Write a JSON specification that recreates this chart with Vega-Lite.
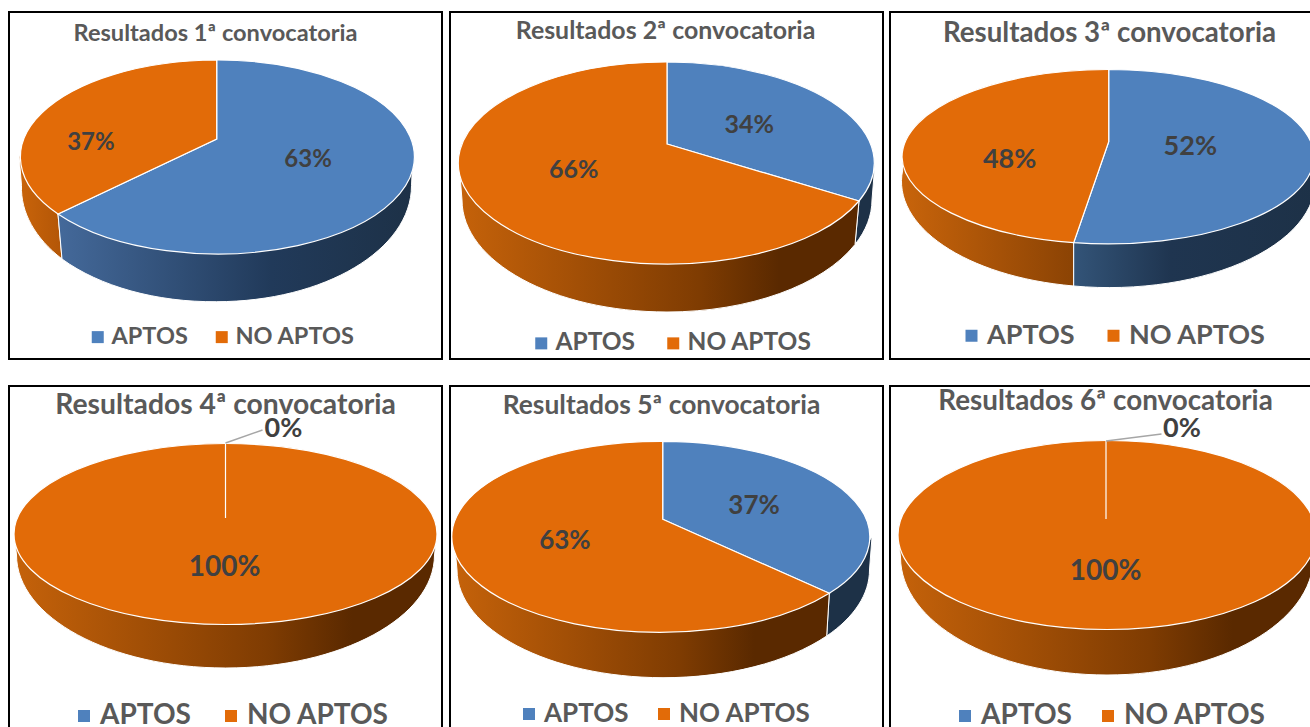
{
"$schema":"https://vega.github.io/schema/vega-lite/v6.json",
"background":"white",
"padding":{"left":8,"top":11,"right":0,"bottom":0},
"config":{"view":{"stroke":"#000000","strokeWidth":2},"legend":{"symbolStrokeWidth":0,"symbolSize":144,"labelFont":"Lato","labelFontWeight":"bold","labelColor":"#595959","labelOffset":2,"title":null,"direction":"horizontal","orient":"none"}},
"spacing":{"row":25,"column":5},
"columns":3,
"resolve":{"scale":{"color":"independent","shape":"independent","theta":"independent"},"legend":{"color":"independent"}},
"concat":[
{"width":433,"height":347,"view":{"stroke":"#000000","strokeWidth":2},
"title":{"text":"Resultados 1ª convocatoria","font":"Lato","fontWeight":"bold","fontSize":23.6,"color":"#595959","anchor":"middle","offset":-34,"dx":-10},
"data":{"values":[{"estado":"APTOS","pct":0.63,"medio":0.315},{"estado":"NO APTOS","pct":0.37,"medio":0.815}]},
"layer":[
{"transform":[{"filter":"datum.estado==='NO APTOS'"}],"mark":{"type":"point","filled":true,"opacity":1,"size":4,"stroke":"#ffffff","strokeWidth":1,"shape":"M-206.5 -30.5L-204 0.2A195 116 0 0 0 -163.5 73.5L-167.5 28.5Z","fill":{"gradient":"linear","stops":[{"offset":0,"color":"#c9640a"},{"offset":1,"color":"#b35607"}]}},"encoding":{}},
{"transform":[{"filter":"datum.estado==='APTOS'"}],"mark":{"type":"point","filled":true,"opacity":1,"size":4,"stroke":"#ffffff","strokeWidth":1,"shape":"M-167.5 28.5L-163.5 73.5A195 116 0 0 0 -9 116.2A195 116 0 0 0 186 0.2L187.5 -30.5Z","fill":{"gradient":"linear","stops":[{"offset":0,"color":"#44699a"},{"offset":0.6,"color":"#213a5a"},{"offset":1,"color":"#1d3147"}]}},"encoding":{}},
{"mark":{"type":"point","filled":true,"opacity":1,"size":4,"stroke":"#ffffff","strokeWidth":1.2},
"encoding":{"shape":{"field":"pct","type":"nominal","legend":null,"scale":{"domain":[0.63,0.37],"range":["M-8.8 -46.5L-8.8 -125.5A197 97 0 1 1 -167.5 28.5Z","M-8.8 -46.5L-167.5 28.5A197 97 0 0 1 -8.8 -125.5Z"]}},
"color":{"field":"estado","type":"nominal","scale":{"domain":["APTOS","NO APTOS"],"range":["#4f81bd","#e26b08"]},"legend":{"symbolType":"square","legendX":77,"legendY":313,"labelFontSize":23.5,"columnPadding":22}}}},
{"transform":[{"filter":"datum.estado==='APTOS'"}],"mark":{"type":"text","font":"Lato","fontWeight":"bold","fontSize":24,"color":"#404040","align":"center","baseline":"middle","dx":0,"dy":-61},"encoding":{"theta":{"field":"medio","type":"quantitative","stack":null,"scale":{"domain":[0,1]}},"radius":{"value":90},"text":{"field":"pct","type":"quantitative","format":".0%"}}},
{"transform":[{"filter":"datum.estado==='NO APTOS'"}],"mark":{"type":"text","font":"Lato","fontWeight":"bold","fontSize":24,"color":"#404040","align":"center","baseline":"middle","dx":-52,"dy":-7},"encoding":{"theta":{"field":"medio","type":"quantitative","stack":null,"scale":{"domain":[0,1]}},"radius":{"value":90},"text":{"field":"pct","type":"quantitative","format":".0%"}}}
]},
{"width":433,"height":347,"view":{"stroke":"#000000","strokeWidth":2},
"title":{"text":"Resultados 2ª convocatoria","font":"Lato","fontWeight":"bold","fontSize":24.9,"color":"#595959","anchor":"middle","offset":-32,"dx":-1},
"data":{"values":[{"estado":"APTOS","pct":0.34,"medio":0.17},{"estado":"NO APTOS","pct":0.66,"medio":0.67}]},
"layer":[
{"transform":[{"filter":"datum.estado==='APTOS'"}],"mark":{"type":"point","filled":true,"opacity":1,"size":4,"stroke":"#ffffff","strokeWidth":1,"shape":"M192.5 15.5L188.5 59A205 112 0 0 0 205.5 14.5L208.5 -22.5Z","fill":"#1d3147"},"encoding":{}},
{"transform":[{"filter":"datum.estado==='NO APTOS'"}],"mark":{"type":"point","filled":true,"opacity":1,"size":4,"stroke":"#ffffff","strokeWidth":1,"shape":"M-207.5 -22.5L-204.5 14.5A205 112 0 0 0 0.5 126.5A205 112 0 0 0 188.5 59L192.5 15.5Z","fill":{"gradient":"linear","stops":[{"offset":0,"color":"#c5620a"},{"offset":0.6,"color":"#7f3c02"},{"offset":0.8,"color":"#5a2900"},{"offset":1,"color":"#5a2900"}]}},"encoding":{}},
{"mark":{"type":"point","filled":true,"opacity":1,"size":4,"stroke":"#ffffff","strokeWidth":1.2},
"encoding":{"shape":{"field":"pct","type":"nominal","legend":null,"scale":{"domain":[0.34,0.66],"range":["M0.5 -41.5L0.5 -123.5A208 101 0 0 1 192.5 15.5Z","M0.5 -41.5L192.5 15.5A208 101 0 1 1 0.5 -123.5Z"]}},
"color":{"field":"estado","type":"nominal","scale":{"domain":["APTOS","NO APTOS"],"range":["#4f81bd","#e26b08"]},"legend":{"symbolType":"square","legendX":79,"legendY":319,"labelFontSize":24.5,"columnPadding":25}}}},
{"transform":[{"filter":"datum.estado==='APTOS'"}],"mark":{"type":"text","font":"Lato","fontWeight":"bold","fontSize":25,"color":"#404040","align":"center","baseline":"middle","dx":4,"dy":-17},"encoding":{"theta":{"field":"medio","type":"quantitative","stack":null,"scale":{"domain":[0,1]}},"radius":{"value":90},"text":{"field":"pct","type":"quantitative","format":".0%"}}},
{"transform":[{"filter":"datum.estado==='NO APTOS'"}],"mark":{"type":"text","font":"Lato","fontWeight":"bold","fontSize":25,"color":"#404040","align":"center","baseline":"middle","dx":-14,"dy":-59},"encoding":{"theta":{"field":"medio","type":"quantitative","stack":null,"scale":{"domain":[0,1]}},"radius":{"value":90},"text":{"field":"pct","type":"quantitative","format":".0%"}}}
]},
{"width":421,"height":347,"view":{"stroke":"#000000","strokeWidth":2},
"title":{"text":"Resultados 3ª convocatoria","font":"Lato","fontWeight":"bold","fontSize":27.7,"color":"#595959","anchor":"middle","offset":-36,"dx":9},
"data":{"values":[{"estado":"APTOS","pct":0.52,"medio":0.26},{"estado":"NO APTOS","pct":0.48,"medio":0.76}]},
"layer":[
{"transform":[{"filter":"datum.estado==='NO APTOS'"}],"mark":{"type":"point","filled":true,"opacity":1,"size":4,"stroke":"#ffffff","strokeWidth":1,"shape":"M-198.5 -28.5L-197.8 -15.5A206 106 0 0 0 -26.8 100.5L-26.8 57.2Z","fill":{"gradient":"linear","stops":[{"offset":0,"color":"#c8640b"},{"offset":1,"color":"#8b4304"}]}},"encoding":{}},
{"transform":[{"filter":"datum.estado==='APTOS'"}],"mark":{"type":"point","filled":true,"opacity":1,"size":4,"stroke":"#ffffff","strokeWidth":1,"shape":"M-26.8 57.2L-26.8 100.5A206 106 0 0 0 213.5 -15.5L213.5 -28.5Z","fill":{"gradient":"linear","stops":[{"offset":0,"color":"#335478"},{"offset":0.4,"color":"#1f3550"},{"offset":1,"color":"#1d3147"}]}},"encoding":{}},
{"mark":{"type":"point","filled":true,"opacity":1,"size":4,"stroke":"#ffffff","strokeWidth":1.2},
"encoding":{"shape":{"field":"pct","type":"nominal","legend":null,"scale":{"domain":[0.52,0.48],"range":["M8.2 -43.8L8.2 -116A206 88 0 0 1 213.5 -28.5A206 88 0 0 1 -26.8 57.2Z","M8.2 -43.8L-26.8 57.2A206 88 0 0 1 -198.5 -28.5A206 88 0 0 1 8.2 -116Z"]}},
"color":{"field":"estado","type":"nominal","scale":{"domain":["APTOS","NO APTOS"],"range":["#4f81bd","#e26b08"]},"legend":{"symbolType":"square","legendX":68,"legendY":310,"labelFontSize":27,"columnPadding":25}}}},
{"transform":[{"filter":"datum.estado==='APTOS'"}],"mark":{"type":"text","font":"Lato","fontWeight":"bold","fontSize":27,"color":"#404040","align":"center","baseline":"middle","dx":0,"dy":-44},"encoding":{"theta":{"field":"medio","type":"quantitative","stack":null,"scale":{"domain":[0,1]}},"radius":{"value":90},"text":{"field":"pct","type":"quantitative","format":".0%"}}},
{"transform":[{"filter":"datum.estado==='NO APTOS'"}],"mark":{"type":"text","font":"Lato","fontWeight":"bold","fontSize":27,"color":"#404040","align":"center","baseline":"middle","dx":-1,"dy":-20},"encoding":{"theta":{"field":"medio","type":"quantitative","stack":null,"scale":{"domain":[0,1]}},"radius":{"value":90},"text":{"field":"pct","type":"quantitative","format":".0%"}}}
]},
{"width":433,"height":342,"view":{"stroke":"#000000","strokeWidth":2},
"title":{"text":"Resultados 4ª convocatoria","font":"Lato","fontWeight":"bold","fontSize":28.3,"color":"#595959","anchor":"middle","offset":-34,"dx":0},
"data":{"values":[{"estado":"NO APTOS","pct":1,"medio":0.5},{"estado":"APTOS","pct":0,"medio":0}]},
"layer":[
{"transform":[{"filter":"datum.estado==='NO APTOS'"}],"mark":{"type":"point","filled":true,"opacity":1,"size":4,"stroke":"#ffffff","strokeWidth":1,"shape":"M-211.5 -23L-209 -2A209 113 0 0 0 0 111A209 113 0 0 0 209 -2L211.5 -23Z","fill":{"gradient":"linear","stops":[{"offset":0,"color":"#c5620a"},{"offset":0.6,"color":"#7f3c02"},{"offset":0.8,"color":"#5a2900"},{"offset":1,"color":"#5a2900"}]}},"encoding":{}},
{"mark":{"type":"point","filled":true,"opacity":1,"size":4,"stroke":"#ffffff","strokeWidth":1.2},
"encoding":{"shape":{"field":"pct","type":"nominal","legend":null,"scale":{"domain":[0,1],"range":["M0 -39L0 -114","M-211.5 -23A211.5 90.5 0 1 1 211.5 -23A211.5 90.5 0 1 1 -211.5 -23Z"]}},
"color":{"field":"estado","type":"nominal","scale":{"domain":["APTOS","NO APTOS"],"range":["#4f81bd","#e26b08"]},"legend":{"symbolType":"square","legendX":61,"legendY":316,"labelFontSize":28,"columnPadding":26}}}},
{"transform":[{"filter":"datum.estado==='APTOS'"}],"mark":{"type":"point","filled":false,"opacity":1,"size":4,"stroke":"#a6a6a6","strokeWidth":1.5,"shape":"M0 -114L37 -127"},"encoding":{}},
{"transform":[{"filter":"datum.estado==='APTOS'"}],"mark":{"type":"text","font":"Lato","fontWeight":"bold","fontSize":27,"color":"#404040","align":"center","baseline":"middle","dx":58,"dy":-38},"encoding":{"theta":{"field":"medio","type":"quantitative","stack":null,"scale":{"domain":[0,1]}},"radius":{"value":90},"text":{"field":"pct","type":"quantitative","format":".0%"}}},
{"transform":[{"filter":"datum.estado==='NO APTOS'"}],"mark":{"type":"text","font":"Lato","fontWeight":"bold","fontSize":28,"color":"#404040","align":"center","baseline":"middle","dx":-1,"dy":-79},"encoding":{"theta":{"field":"medio","type":"quantitative","stack":null,"scale":{"domain":[0,1]}},"radius":{"value":90},"text":{"field":"pct","type":"quantitative","format":".0%"}}}
]},
{"width":433,"height":342,"view":{"stroke":"#000000","strokeWidth":2},
"title":{"text":"Resultados 5ª convocatoria","font":"Lato","fontWeight":"bold","fontSize":26.4,"color":"#595959","anchor":"middle","offset":-33,"dx":-5},
"data":{"values":[{"estado":"APTOS","pct":0.37,"medio":0.185},{"estado":"NO APTOS","pct":0.63,"medio":0.685}]},
"layer":[
{"transform":[{"filter":"datum.estado==='APTOS'"}],"mark":{"type":"point","filled":true,"opacity":1,"size":4,"stroke":"#ffffff","strokeWidth":1,"shape":"M162.8 36.3L160.2 79A206.5 108 0 0 0 203 13L205.5 -20Z","fill":"#1d3147"},"encoding":{}},
{"transform":[{"filter":"datum.estado==='NO APTOS'"}],"mark":{"type":"point","filled":true,"opacity":1,"size":4,"stroke":"#ffffff","strokeWidth":1,"shape":"M-212.5 -20L-209.5 13A206.5 108 0 0 0 -3.5 120.7A206.5 108 0 0 0 160.2 79L162.8 36.3Z","fill":{"gradient":"linear","stops":[{"offset":0,"color":"#c5620a"},{"offset":0.6,"color":"#7f3c02"},{"offset":0.8,"color":"#5a2900"},{"offset":1,"color":"#5a2900"}]}},"encoding":{}},
{"mark":{"type":"point","filled":true,"opacity":1,"size":4,"stroke":"#ffffff","strokeWidth":1.2},
"encoding":{"shape":{"field":"pct","type":"nominal","legend":null,"scale":{"domain":[0.37,0.63],"range":["M-3.8 -37.7L-3.8 -115.7A209 95.5 0 0 1 162.8 36.3Z","M-3.8 -37.7L162.8 36.3A209 95.5 0 1 1 -3.8 -115.7Z"]}},
"color":{"field":"estado","type":"nominal","scale":{"domain":["APTOS","NO APTOS"],"range":["#4f81bd","#e26b08"]},"legend":{"symbolType":"square","legendX":66,"legendY":315,"labelFontSize":26,"columnPadding":22}}}},
{"transform":[{"filter":"datum.estado==='APTOS'"}],"mark":{"type":"text","font":"Lato","fontWeight":"bold","fontSize":26,"color":"#404040","align":"center","baseline":"middle","dx":5,"dy":-15},"encoding":{"theta":{"field":"medio","type":"quantitative","stack":null,"scale":{"domain":[0,1]}},"radius":{"value":90},"text":{"field":"pct","type":"quantitative","format":".0%"}}},
{"transform":[{"filter":"datum.estado==='NO APTOS'"}],"mark":{"type":"text","font":"Lato","fontWeight":"bold","fontSize":26,"color":"#404040","align":"center","baseline":"middle","dx":-19,"dy":-52},"encoding":{"theta":{"field":"medio","type":"quantitative","stack":null,"scale":{"domain":[0,1]}},"radius":{"value":90},"text":{"field":"pct","type":"quantitative","format":".0%"}}}
]},
{"width":421,"height":342,"view":{"stroke":"#000000","strokeWidth":2},
"title":{"text":"Resultados 6ª convocatoria","font":"Lato","fontWeight":"bold","fontSize":27.8,"color":"#595959","anchor":"middle","offset":-30,"dx":5},
"data":{"values":[{"estado":"NO APTOS","pct":1,"medio":0.5},{"estado":"APTOS","pct":0,"medio":0}]},
"layer":[
{"transform":[{"filter":"datum.estado==='NO APTOS'"}],"mark":{"type":"point","filled":true,"opacity":1,"size":4,"stroke":"#ffffff","strokeWidth":1,"shape":"M-202.5 -22L-200 0A206.5 118 0 0 0 6.5 118A206.5 118 0 0 0 213 0L215.5 -22Z","fill":{"gradient":"linear","stops":[{"offset":0,"color":"#c5620a"},{"offset":0.6,"color":"#7f3c02"},{"offset":0.8,"color":"#5a2900"},{"offset":1,"color":"#5a2900"}]}},"encoding":{}},
{"mark":{"type":"point","filled":true,"opacity":1,"size":4,"stroke":"#ffffff","strokeWidth":1.2},
"encoding":{"shape":{"field":"pct","type":"nominal","legend":null,"scale":{"domain":[0,1],"range":["M5.5 -38L5.5 -116","M-202.5 -22A209 94.5 0 1 1 215.5 -22A209 94.5 0 1 1 -202.5 -22Z"]}},
"color":{"field":"estado","type":"nominal","scale":{"domain":["APTOS","NO APTOS"],"range":["#4f81bd","#e26b08"]},"legend":{"symbolType":"square","legendX":61,"legendY":316,"labelFontSize":28,"columnPadding":22}}}},
{"transform":[{"filter":"datum.estado==='APTOS'"}],"mark":{"type":"point","filled":false,"opacity":1,"size":4,"stroke":"#a6a6a6","strokeWidth":1.5,"shape":"M5.5 -116L61 -123"},"encoding":{}},
{"transform":[{"filter":"datum.estado==='APTOS'"}],"mark":{"type":"text","font":"Lato","fontWeight":"bold","fontSize":27,"color":"#404040","align":"center","baseline":"middle","dx":81.5,"dy":-38},"encoding":{"theta":{"field":"medio","type":"quantitative","stack":null,"scale":{"domain":[0,1]}},"radius":{"value":90},"text":{"field":"pct","type":"quantitative","format":".0%"}}},
{"transform":[{"filter":"datum.estado==='NO APTOS'"}],"mark":{"type":"text","font":"Lato","fontWeight":"bold","fontSize":28,"color":"#404040","align":"center","baseline":"middle","dx":5,"dy":-75},"encoding":{"theta":{"field":"medio","type":"quantitative","stack":null,"scale":{"domain":[0,1]}},"radius":{"value":90},"text":{"field":"pct","type":"quantitative","format":".0%"}}}
]}
]
}
